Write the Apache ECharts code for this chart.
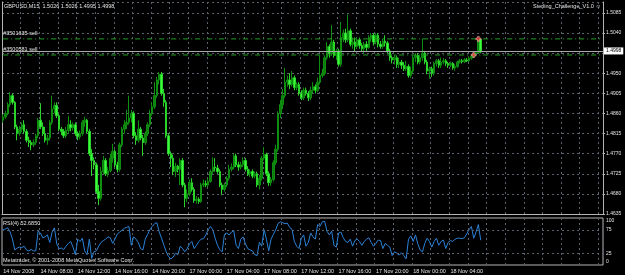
<!DOCTYPE html>
<html>
<head>
<meta charset="utf-8">
<title>GBPUSD,M15</title>
<script src="https://cdn.jsdelivr.net/npm/echarts/dist/echarts.min.js"></script>
<style>
  html, body { margin: 0; padding: 0; background: #000; }
  #mapChart { width: 625px; height: 275px; }
</style>
</head>
<body>
<div id="mapChart"></div>
<script>
// time labels, one every 16 bars (4 hours of M15)
const timeLabels = ['14 Nov 2008', '14 Nov 08:00', '14 Nov 12:00', '14 Nov 16:00', '14 Nov 20:00',
  '17 Nov 00:00', '17 Nov 04:00', '17 Nov 08:00', '17 Nov 12:00', '17 Nov 16:00',
  '17 Nov 20:00', '18 Nov 00:00', '18 Nov 04:00'];

// [open, close, low, high]
const candles = [
  [1.4845,1.4852,1.4840,1.4858],[1.4852,1.4860,1.4848,1.4866],[1.4860,1.4880,1.4856,1.4885],[1.4880,1.4900,1.4875,1.4908],
  [1.4900,1.4885,1.4880,1.4905],[1.4885,1.4830,1.4825,1.4888],[1.4830,1.4815,1.4800,1.4835],[1.4815,1.4825,1.4810,1.4832],
  [1.4825,1.4835,1.4818,1.4840],[1.4835,1.4820,1.4815,1.4845],[1.4820,1.4800,1.4795,1.4825],[1.4800,1.4795,1.4785,1.4808],
  [1.4795,1.4790,1.4778,1.4800],[1.4790,1.4795,1.4785,1.4802],[1.4795,1.4810,1.4790,1.4815],[1.4810,1.4845,1.4805,1.4850],
  [1.4845,1.4830,1.4825,1.4883],[1.4830,1.4815,1.4810,1.4840],[1.4815,1.4800,1.4795,1.4830],[1.4800,1.4805,1.4790,1.4812],
  [1.4805,1.4840,1.4800,1.4845],[1.4840,1.4870,1.4835,1.4900],[1.4870,1.4878,1.4860,1.4885],[1.4878,1.4855,1.4850,1.4885],
  [1.4855,1.4825,1.4820,1.4860],[1.4825,1.4820,1.4812,1.4830],[1.4820,1.4810,1.4805,1.4825],[1.4810,1.4822,1.4805,1.4830],
  [1.4822,1.4835,1.4815,1.4855],[1.4835,1.4828,1.4820,1.4845],[1.4828,1.4835,1.4822,1.4840],[1.4835,1.4815,1.4810,1.4840],
  [1.4815,1.4808,1.4800,1.4820],[1.4808,1.4815,1.4802,1.4822],[1.4815,1.4840,1.4810,1.4845],[1.4840,1.4845,1.4830,1.4853],
  [1.4845,1.4820,1.4815,1.4848],[1.4820,1.4770,1.4765,1.4825],[1.4770,1.4755,1.4720,1.4780],[1.4755,1.4745,1.4735,1.4762],
  [1.4745,1.4685,1.4680,1.4750],[1.4685,1.4670,1.4655,1.4700],[1.4670,1.4730,1.4665,1.4740],[1.4730,1.4755,1.4725,1.4765],
  [1.4755,1.4725,1.4720,1.4760],[1.4725,1.4732,1.4718,1.4740],[1.4732,1.4760,1.4728,1.4770],[1.4760,1.4775,1.4750,1.4792],
  [1.4775,1.4745,1.4740,1.4780],[1.4745,1.4735,1.4728,1.4752],[1.4735,1.4790,1.4730,1.4795],[1.4790,1.4825,1.4785,1.4830],
  [1.4825,1.4835,1.4815,1.4845],[1.4835,1.4840,1.4825,1.4868],[1.4840,1.4850,1.4835,1.4900],[1.4850,1.4860,1.4840,1.4868],
  [1.4860,1.4810,1.4805,1.4865],[1.4810,1.4800,1.4790,1.4818],[1.4800,1.4825,1.4795,1.4845],[1.4825,1.4805,1.4800,1.4830],
  [1.4805,1.4795,1.4765,1.4812],[1.4795,1.4815,1.4790,1.4820],[1.4815,1.4835,1.4810,1.4840],[1.4835,1.4860,1.4830,1.4868],
  [1.4860,1.4875,1.4855,1.4885],[1.4875,1.4900,1.4870,1.4930],[1.4900,1.4935,1.4895,1.4942],[1.4935,1.4948,1.4925,1.4953],
  [1.4948,1.4905,1.4900,1.4953],[1.4905,1.4885,1.4875,1.4915],[1.4885,1.4810,1.4805,1.4890],[1.4810,1.4770,1.4765,1.4815],
  [1.4770,1.4760,1.4740,1.4775],[1.4760,1.4730,1.4722,1.4768],[1.4730,1.4742,1.4718,1.4750],[1.4742,1.4735,1.4728,1.4745],
  [1.4735,1.4755,1.4700,1.4760],[1.4755,1.4700,1.4695,1.4760],[1.4700,1.4670,1.4650,1.4705],[1.4670,1.4680,1.4662,1.4690],
  [1.4680,1.4705,1.4675,1.4712],[1.4705,1.4690,1.4685,1.4715],[1.4690,1.4665,1.4660,1.4695],[1.4665,1.4668,1.4658,1.4675],
  [1.4668,1.4663,1.4658,1.4672],[1.4663,1.4700,1.4660,1.4705],[1.4700,1.4703,1.4695,1.4712],[1.4703,1.4700,1.4695,1.4710],
  [1.4700,1.4708,1.4695,1.4715],[1.4708,1.4730,1.4705,1.4735],[1.4730,1.4740,1.4725,1.4762],[1.4740,1.4738,1.4730,1.4760],
  [1.4738,1.4730,1.4725,1.4745],[1.4730,1.4700,1.4695,1.4735],[1.4700,1.4690,1.4678,1.4705],[1.4690,1.4700,1.4685,1.4705],
  [1.4700,1.4715,1.4695,1.4720],[1.4715,1.4735,1.4710,1.4745],[1.4735,1.4740,1.4730,1.4748],[1.4740,1.4765,1.4735,1.4770],
  [1.4765,1.4745,1.4740,1.4770],[1.4745,1.4740,1.4732,1.4752],[1.4740,1.4745,1.4735,1.4752],[1.4745,1.4755,1.4740,1.4762],
  [1.4755,1.4735,1.4730,1.4760],[1.4735,1.4725,1.4720,1.4742],[1.4725,1.4730,1.4718,1.4735],[1.4730,1.4720,1.4715,1.4735],
  [1.4720,1.4725,1.4715,1.4730],[1.4725,1.4700,1.4695,1.4730],[1.4700,1.4715,1.4690,1.4722],[1.4715,1.4760,1.4710,1.4765],
  [1.4760,1.4768,1.4755,1.4785],[1.4768,1.4725,1.4720,1.4772],[1.4725,1.4705,1.4698,1.4730],[1.4705,1.4712,1.4698,1.4718],
  [1.4712,1.4750,1.4708,1.4755],[1.4750,1.4780,1.4745,1.4790],[1.4780,1.4860,1.4775,1.4865],[1.4860,1.4880,1.4850,1.4890],
  [1.4880,1.4900,1.4870,1.4915],[1.4900,1.4930,1.4895,1.4962],[1.4930,1.4935,1.4920,1.4945],[1.4935,1.4925,1.4915,1.4950],
  [1.4925,1.4940,1.4920,1.4955],[1.4940,1.4918,1.4912,1.4945],[1.4918,1.4925,1.4912,1.4930],[1.4925,1.4905,1.4900,1.4930],
  [1.4905,1.4895,1.4890,1.4912],[1.4895,1.4912,1.4890,1.4918],[1.4912,1.4905,1.4900,1.4918],[1.4905,1.4895,1.4888,1.4910],
  [1.4895,1.4912,1.4890,1.4920],[1.4912,1.4920,1.4905,1.4930],[1.4920,1.4912,1.4905,1.4925],[1.4912,1.4930,1.4908,1.4940],
  [1.4930,1.4945,1.4925,1.4990],[1.4945,1.4950,1.4940,1.4960],[1.4950,1.4985,1.4945,1.4990],[1.4985,1.5010,1.4980,1.5020],
  [1.5010,1.4995,1.4985,1.5015],[1.4995,1.5020,1.4990,1.5058],[1.5020,1.4990,1.4985,1.5025],[1.4990,1.5000,1.4980,1.5005],
  [1.5000,1.4970,1.4965,1.5005],[1.4970,1.5030,1.4965,1.5065],[1.5030,1.5040,1.5020,1.5048],[1.5040,1.5025,1.5018,1.5050],
  [1.5025,1.5045,1.5020,1.5082],[1.5045,1.5015,1.5010,1.5050],[1.5015,1.5020,1.5005,1.5030],[1.5020,1.5010,1.5000,1.5030],
  [1.5010,1.5025,1.5005,1.5030],[1.5025,1.5012,1.5005,1.5030],[1.5012,1.5005,1.4998,1.5018],[1.5005,1.5015,1.4995,1.5020],
  [1.5015,1.5008,1.5000,1.5022],[1.5008,1.5030,1.5005,1.5035],[1.5030,1.5035,1.5020,1.5040],[1.5035,1.5020,1.5012,1.5040],
  [1.5020,1.5035,1.5015,1.5040],[1.5035,1.5015,1.5008,1.5040],[1.5015,1.5010,1.5005,1.5022],[1.5010,1.5022,1.5005,1.5028],
  [1.5022,1.5018,1.5010,1.5035],[1.5018,1.5000,1.4995,1.5022],[1.5000,1.4985,1.4978,1.5005],[1.4985,1.4980,1.4972,1.4990],
  [1.4980,1.4985,1.4970,1.4992],[1.4985,1.4970,1.4962,1.4990],[1.4970,1.4975,1.4962,1.4985],[1.4975,1.4968,1.4960,1.4980],
  [1.4968,1.4960,1.4955,1.4975],[1.4960,1.4965,1.4955,1.4978],[1.4965,1.4945,1.4940,1.4970],[1.4945,1.4955,1.4940,1.4965],
  [1.4955,1.4985,1.4950,1.4990],[1.4985,1.4990,1.4975,1.4995],[1.4990,1.4975,1.4970,1.4995],[1.4975,1.4985,1.4970,1.4990],
  [1.4985,1.4995,1.4978,1.5028],[1.4995,1.4975,1.4970,1.5000],[1.4975,1.4955,1.4948,1.4980],[1.4955,1.4960,1.4938,1.4965],
  [1.4960,1.4950,1.4942,1.4965],[1.4950,1.4972,1.4945,1.4976],[1.4972,1.4978,1.4965,1.4982],[1.4978,1.4968,1.4962,1.4982],
  [1.4968,1.4975,1.4962,1.4985],[1.4975,1.4978,1.4970,1.4984],[1.4978,1.4972,1.4966,1.4982],[1.4972,1.4968,1.4962,1.4976],
  [1.4968,1.4972,1.4964,1.4976],[1.4972,1.4962,1.4958,1.4975],[1.4962,1.4965,1.4956,1.4970],[1.4965,1.4975,1.4962,1.4978],
  [1.4975,1.4978,1.4972,1.4982],[1.4978,1.4976,1.4972,1.4982],[1.4976,1.4980,1.4973,1.4984],[1.4980,1.4978,1.4975,1.4984],
  [1.4978,1.4984,1.4975,1.4988],[1.4984,1.4988,1.4980,1.4992],[1.4988,1.4992,1.4984,1.4995],[1.4992,1.4996,1.4988,1.5000],
  [1.4996,1.5026,1.4994,1.5028],[1.5026,1.4998,1.4995,1.5026]
];

// RSI(4)
const rsiValues = [
  75,77,79,70,55,32,36,38,37,40, 32,30,33,30,30,72,68,58,60,64,
  48,70,79,45,35,36,33,40,46,50, 38,22,55,50,57,30,22,55,14,28,
  30,40,48,52,55,60,58,46,55,66, 70,74,78,80,82,42,60,55,48,35,
  32,55,65,75,82,88,90,70,57,42, 28,18,13,17,25,22,40,35,28,35,
  45,50,35,42,50,55,56,64,75,82, 75,57,42,33,28,65,68,64,70,73,
  42,35,55,60,45,35,32,30,22,20, 48,40,75,55,30,55,65,75,88,92,
  90,88,89,80,76,50,40,35,57,64, 40,48,68,60,55,86,82,92,93,72,
  64,72,42,38,68,70,58,50,48,55, 40,52,55,50,42,50,55,58,48,40,
  46,53,52,35,46,42,38,20,28,25, 21,26,20,13,55,62,50,64,45,32,
  28,46,57,50,38,50,57,42,50,53, 35,48,52,50,55,57,57,56,58,66,
  75,82,57,70,86,52.685
];

const orderNames = ['#3501635 sell', '#3500581 sell'];
const orderPrices = [1.5027, 1.4991];
const orderMarks = [[202, 1.4991], [204, 1.5027]];
const bidPrice = 1.4998;
const rsiLevels = [75, 25];
const headerText = 'GBPUSD,M15  1.5026 1.5026 1.4995 1.4998';
const expertText = 'Sterling_Challenge_V1.0 \u263A';
const rsiText = 'RSI(4) 52.6850';
const copyText = 'Metatrader, \u00A9 2001-2008 MetaQuotes Software Corp.';

// bar slots incl. the empty shift area on the right
const slots = [];
for (let i = 0; i < 258; i++) slots.push(String(i));

const font = 'Liberation Sans';
const txtColor = '#e4e4e4';
const gridColor = '#5a636d';
const frameColor = '#b4b4b4';

const myChart = echarts.init(document.getElementById('mapChart'), null, { renderer: 'canvas' });

const txt = (size) => ({ color: txtColor, fontSize: size, fontWeight: 'normal', fontFamily: font });

// order lines: a flat line over all slots, name on its left end
const orderSeries = orderNames.map((n, k) => ({
  type: 'line', xAxisIndex: 0, yAxisIndex: 0,
  symbol: 'circle', symbolSize: 1, showSymbol: true, silent: true, z: 4,
  itemStyle: { color: 'transparent', borderWidth: 0 },
  lineStyle: { color: '#22a022', type: [5, 3, 1, 3], width: 1 },
  label: { show: false },
  data: [
    { value: [slots[0], orderPrices[k]], label: { show: true, position: 'top', align: 'left', distance: 2, formatter: n, ...txt(5.5) } },
    [slots[slots.length - 1], orderPrices[k]]
  ]
}));

const option = {
  backgroundColor: '#000000',
  animation: false,
  title: [
    { text: headerText, left: 4, top: 3, padding: 0, textStyle: txt(5.5) },
    { text: expertText, right: 24, top: 3, padding: 0, textStyle: txt(5.5) },
    { text: rsiText, left: 3, top: 220, padding: 0, textStyle: txt(5.5) },
    { text: copyText, left: 3, top: 257, padding: 0, textStyle: txt(5.5) }
  ],
  grid: [
    { left: 2, top: 2, width: 601, height: 212, show: false },
    { left: 2, top: 218, width: 601, height: 47, show: true, borderColor: frameColor, borderWidth: 1, backgroundColor: 'transparent' }
  ],
  xAxis: [
    {
      type: 'category', gridIndex: 0, data: slots, position: 'top', boundaryGap: true,
      axisLine: { show: true, lineStyle: { color: frameColor } },
      axisTick: { show: false }, axisLabel: { show: false },
      splitLine: { show: true, interval: (i) => i % 8 === 0, lineStyle: { color: gridColor, type: [2, 3] } }
    },
    {
      type: 'category', gridIndex: 1, data: slots, position: 'bottom', boundaryGap: true,
      axisLine: { show: false }, axisTick: { show: false },
      axisLabel: {
        show: true,
        interval: (i) => i % 16 === 0 && i / 16 < timeLabels.length,
        formatter: (v, i) => timeLabels[i / 16] || '',
        align: 'left', margin: 3, ...txt(5.5)
      },
      splitLine: { show: true, interval: (i) => i % 8 === 0, lineStyle: { color: gridColor, type: [2, 3] } }
    }
  ],
  yAxis: [
    {
      type: 'value', gridIndex: 0, position: 'right',
      min: 1.4635, max: 1.51096, interval: 0.0045,
      axisLine: { show: true, lineStyle: { color: frameColor } },
      axisTick: { show: true, length: 2, lineStyle: { color: frameColor } },
      axisLabel: {
        margin: 3, showMaxLabel: false, ...txt(5),
        formatter: (v) => Math.abs(v - 1.4995) < 1e-6 ? '' : v.toFixed(4)
      },
      splitLine: { show: true, lineStyle: { color: gridColor, type: [2, 3] } }
    },
    {
      // left frame of the price window
      type: 'value', gridIndex: 0, position: 'left', min: 0, max: 1,
      axisLine: { show: true, lineStyle: { color: frameColor } },
      axisTick: { show: false }, axisLabel: { show: false }, splitLine: { show: false }
    },
    {
      type: 'value', gridIndex: 1, position: 'right', min: 0, max: 100, interval: 25,
      axisLine: { show: false }, axisTick: { show: false },
      axisLabel: {
        margin: 3, ...txt(5),
        formatter: (v) => v === 100 ? '{a|100}' : v === 0 ? '{b|0}' : v === 50 ? '' : String(v),
        rich: {
          a: { padding: [6, 0, 0, 0], fontSize: 5, color: txtColor, fontFamily: font },
          b: { padding: [0, 0, 6, 0], fontSize: 5, color: txtColor, fontFamily: font }
        }
      },
      splitLine: { show: false }
    }
  ],
  series: [
    {
      type: 'candlestick', xAxisIndex: 0, yAxisIndex: 0,
      data: candles,
      barWidth: 2,
      itemStyle: {
        color: '#0d7a0d', borderColor: '#0f8f0f',
        color0: '#3cff3c', borderColor0: '#2ad42a',
        borderWidth: 1
      },
      markLine: {
        silent: true, symbol: ['none', 'none'], animation: false,
        lineStyle: { color: '#a8a8a8', type: 'solid', width: 1 },
        label: {
          show: true, position: 'end', formatter: bidPrice.toFixed(4), distance: 1,
          backgroundColor: '#ffffff', color: '#000000', fontSize: 5, fontFamily: font, padding: [1, 2]
        },
        data: [{ yAxis: bidPrice }]
      }
    },
    ...orderSeries,
    {
      // order entry marks
      type: 'scatter', xAxisIndex: 0, yAxisIndex: 0,
      data: orderMarks,
      symbol: 'path://M2,0H4V2H6V4H4V6H2V4H0V2H2Z',
      symbolSize: 5,
      itemStyle: { color: '#ff2a2a', borderColor: '#ffd8d8', borderWidth: 0.6 },
      z: 5
    },
    {
      type: 'line', xAxisIndex: 1, yAxisIndex: 2,
      data: rsiValues,
      symbol: 'none',
      lineStyle: { color: '#2a82d8', width: 1 },
      markLine: {
        silent: true, symbol: ['none', 'none'], animation: false,
        label: { show: false },
        lineStyle: { color: gridColor, type: [2, 3], width: 1 },
        data: rsiLevels.map(v => ({ yAxis: v }))
      }
    }
  ]
};

myChart.setOption(option);
</script>
</body>
</html>
